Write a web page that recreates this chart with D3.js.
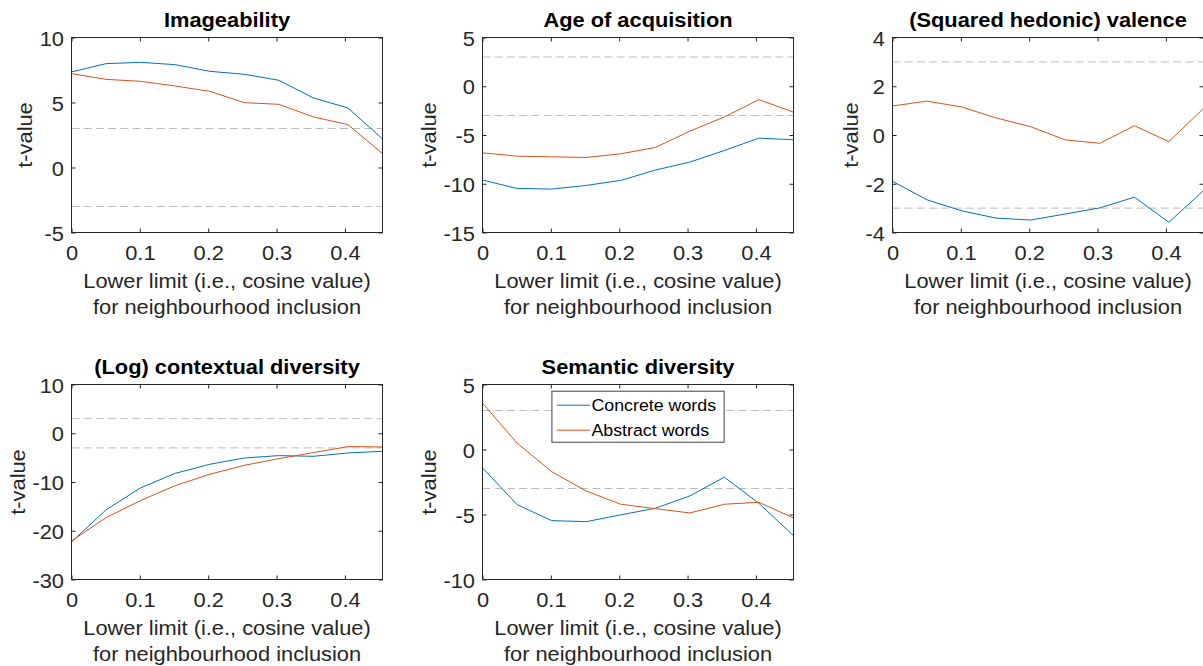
<!DOCTYPE html>
<html>
<head>
<meta charset="utf-8">
<script src="https://cdn.jsdelivr.net/npm/d3@7"></script>
<style>
  html, body { margin: 0; padding: 0; background: #ffffff; }
  svg { display: block; }
  text { font-family: "Liberation Sans", Arial, Helvetica, sans-serif; }
</style>
</head>
<body>
<svg id="chart" width="1203" height="666"></svg>
<script>
// Lower cosine limit used for neighbourhood inclusion (x values shared by every panel)
const cosineLimits = [0, 0.0506, 0.1011, 0.1517, 0.2022, 0.2528, 0.3033, 0.3539, 0.4044, 0.455];

const panelTitles = [
  "Imageability",
  "Age of acquisition",
  "(Squared hedonic) valence",
  "(Log) contextual diversity",
  "Semantic diversity"
];

// t-values, concrete words
const concreteImageability = [7.35, 7.99, 8.09, 7.91, 7.40, 7.17, 6.71, 5.35, 4.58, 2.20];
const concreteAoA          = [-9.62, -10.48, -10.55, -10.17, -9.66, -8.60, -7.78, -6.59, -5.32, -5.49];
const concreteValence      = [-1.90, -2.66, -3.11, -3.41, -3.49, -3.24, -2.99, -2.55, -3.58, -2.28];
const concreteContextual   = [-22.3, -15.7, -11.2, -8.22, -6.37, -5.07, -4.59, -4.73, -4.04, -3.70];
const concreteSemantic     = [-1.41, -4.24, -5.47, -5.55, -5.03, -4.52, -3.57, -2.13, -4.14, -6.63];

// t-values, abstract words
const abstractImageability = [7.22, 6.78, 6.63, 6.27, 5.86, 4.99, 4.86, 3.89, 3.30, 1.07];
const abstractAoA          = [-6.83, -7.17, -7.24, -7.30, -6.93, -6.28, -4.61, -3.14, -1.37, -2.66];
const abstractValence      = [1.19, 1.39, 1.15, 0.70, 0.34, -0.20, -0.34, 0.38, -0.27, 1.09];
const abstractContextual   = [-22.1, -17.3, -13.8, -10.75, -8.42, -6.58, -5.21, -3.97, -2.74, -2.81];
const abstractSemantic     = [3.57, 0.49, -1.70, -3.19, -4.21, -4.55, -4.88, -4.21, -4.06, -5.27];

const concreteSeries = [concreteImageability, concreteAoA, concreteValence, concreteContextual, concreteSemantic];
const abstractSeries = [abstractImageability, abstractAoA, abstractValence, abstractContextual, abstractSemantic];

// y ranges and tick labels per panel
const yDomains = [[-5, 10], [-15, 5], [-4, 4], [-30, 10], [-10, 5]];
const yTickValues = [
  [-5, 0, 5, 10],
  [-15, -10, -5, 0, 5],
  [-4, -2, 0, 2, 4],
  [-30, -20, -10, 0, 10],
  [-10, -5, 0, 5]
];
const xTickValues = [0, 0.1, 0.2, 0.3, 0.4];
const xDomain = [0, 0.455];
const significanceLevels = [3, -3];

const seriesNames = ["Concrete words", "Abstract words"];
const seriesColors = ["#0072BD", "#D95319"];

// ---- layout / styling ----
const FONT = 19.5;        // axis text size
const SX = 1.12;          // horizontal glyph widening
const colLeft = [71.5, 482.5, 892.5];
const rowTop = [37.5, 384.5];
const plotW = 311, plotH = 195;
const TICK = 4;
const axisColor = "#262626";

const svg = d3.select("#chart");

function place(sel, x, y, angle, sx) {
  sel.attr("x", 0).attr("y", 0).attr("dy", null)
     .attr("transform", `translate(${x},${y})` + (angle ? ` rotate(${angle})` : "") + ` scale(${sx || SX},1)`);
  return sel;
}

panelTitles.forEach((title, i) => {
  const left = colLeft[i % 3];
  const top = rowTop[Math.floor(i / 3)];
  const g = svg.append("g").attr("transform", `translate(${left},${top})`);

  const x = d3.scaleLinear().domain(xDomain).range([0, plotW]);
  const y = d3.scaleLinear().domain(yDomains[i]).range([plotH, 0]);

  // dashed significance thresholds
  g.selectAll("line.thr").data(significanceLevels).join("line")
    .attr("class", "thr")
    .attr("x1", 0).attr("x2", plotW)
    .attr("y1", d => y(d)).attr("y2", d => y(d))
    .attr("stroke", "#bdbdbd").attr("stroke-width", 1)
    .attr("stroke-dasharray", "8,4.2");

  // data lines
  const line = d3.line().x((d, k) => x(cosineLimits[k])).y(d => y(d));
  [concreteSeries[i], abstractSeries[i]].forEach((vals, s) => {
    g.append("path").datum(vals)
      .attr("d", line)
      .attr("fill", "none")
      .attr("stroke", seriesColors[s])
      .attr("stroke-width", 1)
      .attr("stroke-linejoin", "round");
  });

  // axes: ticks point inward on all four sides
  const fmt = d => String(d);
  const xb = g.append("g").attr("transform", `translate(0,${plotH})`)
    .call(d3.axisBottom(x).tickValues(xTickValues).tickFormat(fmt).tickSizeInner(-TICK).tickSizeOuter(0));
  const xt = g.append("g")
    .call(d3.axisTop(x).tickValues(xTickValues).tickFormat("").tickSizeInner(-TICK).tickSizeOuter(0));
  const yl = g.append("g")
    .call(d3.axisLeft(y).tickValues(yTickValues[i]).tickFormat(fmt).tickSizeInner(-TICK).tickSizeOuter(0));
  const yr = g.append("g").attr("transform", `translate(${plotW},0)`)
    .call(d3.axisRight(y).tickValues(yTickValues[i]).tickFormat("").tickSizeInner(-TICK).tickSizeOuter(0));

  [xb, xt, yl, yr].forEach(a => {
    a.select(".domain").remove();
    a.selectAll(".tick line").attr("stroke", axisColor).attr("stroke-width", 1);
  });

  xb.selectAll(".tick text").each(function () {
    place(d3.select(this), 0, 27.7)
      .attr("fill", axisColor).attr("font-size", FONT).attr("text-anchor", "middle");
  });
  yl.selectAll(".tick text").each(function () {
    place(d3.select(this), -7.5, 7.5)
      .attr("fill", axisColor).attr("font-size", FONT).attr("text-anchor", "end");
  });
  xb.attr("font-family", null);
  yl.attr("font-family", null);

  // frame
  g.append("rect")
    .attr("x", 0).attr("y", 0).attr("width", plotW).attr("height", plotH)
    .attr("fill", "none").attr("stroke", axisColor).attr("stroke-width", 1);

  // title
  place(g.append("text").text(title), plotW / 2, -10.5)
    .attr("font-size", FONT).attr("font-weight", "bold")
    .attr("text-anchor", "middle").attr("fill", "#000000");

  // x label (two lines)
  ["Lower limit (i.e., cosine value)", "for neighbourhood inclusion"].forEach((t, k) => {
    place(g.append("text").text(t), plotW / 2, plotH + 55 + k * 26)
      .attr("font-size", FONT).attr("text-anchor", "middle").attr("fill", axisColor);
  });

  // y label, placed left of the widest tick label
  const tickBox = yl.node().getBBox();
  place(g.append("text").text("t-value"), tickBox.x - 7.5, plotH / 2, -90)
    .attr("font-size", FONT).attr("text-anchor", "middle").attr("fill", axisColor);

  // legend in the last panel
  if (i === panelTitles.length - 1) {
    const LF = 16.5, LSX = 1.08;
    const lg = g.append("g");
    const box = lg.append("rect").attr("fill", "#ffffff").attr("stroke", "#404040").attr("stroke-width", 1);
    const rows = lg.selectAll("g.row").data(seriesNames).join("g")
      .attr("class", "row")
      .attr("transform", (d, k) => `translate(0,${k * 25})`);
    rows.append("line")
      .attr("x1", 5).attr("x2", 38).attr("y1", 0).attr("y2", 0)
      .attr("stroke", (d, k) => seriesColors[k]).attr("stroke-width", 1);
    rows.append("text").text(d => d)
      .each(function () {
        place(d3.select(this), 39.5, 6.2, 0, LSX).attr("font-size", LF).attr("fill", "#000000");
      });
    const inner = lg.node().getBBox();
    const bw = inner.x + inner.width + 8;
    const bh = 51;
    box.attr("x", 0).attr("y", -14).attr("width", bw).attr("height", bh);
    lg.attr("transform", `translate(${(plotW - bw) / 2},${6.7 + 14})`);
  }
});
</script>
</body>
</html>
